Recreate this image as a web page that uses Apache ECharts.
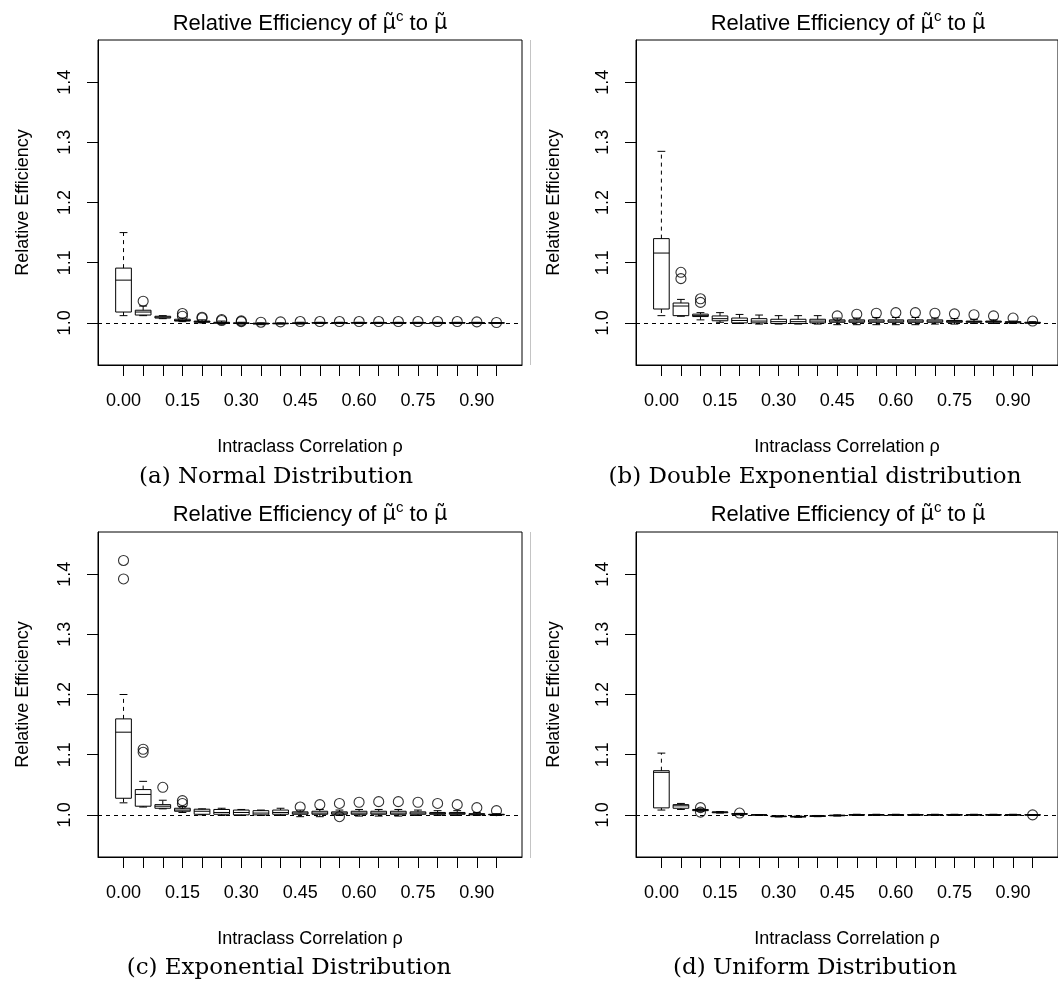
<!DOCTYPE html>
<html>
<head>
<meta charset="utf-8">
<script src="https://cdn.jsdelivr.net/npm/echarts@6/dist/echarts.min.js"></script>
<style>
html,body{margin:0;padding:0;background:#fff;}
#chart{width:1058px;height:983px;background:#fff;}
</style>
</head>
<body>
<div id="chart"></div>
<script>
// ---------------- data ----------------
const rho = ['0.00','0.05','0.10','0.15','0.20','0.25','0.30','0.35','0.40','0.45',
             '0.50','0.55','0.60','0.65','0.70','0.75','0.80','0.85','0.90','0.95'];
const xTickLabels = ['0.00','0.15','0.30','0.45','0.60','0.75','0.90'];
const yTickValues = [1.0, 1.1, 1.2, 1.3, 1.4];

const mainTitle = 'Relative Efficiency of ';
const xName = 'Intraclass Correlation \u03c1';
const yName = 'Relative Efficiency';
const captions = ['(a) Normal Distribution', '(b) Double Exponential distribution',
                  '(c) Exponential Distribution', '(d) Uniform Distribution'];

// box stats: [lower whisker, Q1, median, Q3, upper whisker]
const boxesNormal = [
  [1.012,1.018,1.071,1.091,1.150],[1.012,1.013,1.018,1.021,1.028],[1.007,1.008,1.0095,1.011,1.012],
  [1.002,1.003,1.004,1.006,1.008],[1.000,1.001,1.002,1.003,1.005],[0.999,0.9995,1.000,1.001,1.003],
  [0.998,0.999,0.9995,1.000,1.001],[0.997,0.998,0.999,0.9995,1.000],[0.998,0.9985,0.999,0.9995,1.000],
  [0.998,0.999,0.9995,1.000,1.001],[0.999,0.9995,1.000,1.0005,1.001],[0.999,0.9995,1.000,1.0005,1.001],
  [0.999,0.9995,1.000,1.0005,1.001],[0.999,0.9995,1.000,1.0005,1.001],[0.999,0.9995,1.000,1.0005,1.001],
  [0.999,0.9995,1.000,1.0005,1.001],[0.999,0.9995,1.000,1.0005,1.001],[0.999,0.9995,1.000,1.0005,1.001],
  [0.999,0.9995,1.000,1.0005,1.001],[0.999,0.9995,1.000,1.0003,1.0006]
];
const outNormal = [[1,1.036],[3,1.0155],[3,1.011],[4,1.0094],[4,1.008],[5,1.0055],[5,1.004],[6,1.0033],[6,1.002],
  [7,1.0011],[8,1.0017],[9,1.0022],[10,1.0022],[11,1.0022],[12,1.0022],[13,1.0022],[14,1.0022],[15,1.0022],
  [16,1.0022],[17,1.0022],[18,1.0017],[19,1.0006]];

const boxesDoubleExp = [
  [1.012,1.023,1.116,1.140,1.285],[1.011,1.012,1.028,1.033,1.039],[1.005,1.0105,1.012,1.0145,1.017],
  [1.001,1.0035,1.007,1.0115,1.017],[0.999,1.000,1.004,1.008,1.014],[0.998,1.000,1.003,1.007,1.013],
  [0.998,0.999,1.002,1.006,1.012],[0.998,0.999,1.002,1.006,1.012],[0.998,1.000,1.003,1.006,1.012],
  [0.997,1.001,1.003,1.005,1.008],[0.997,1.001,1.003,1.005,1.008],[0.997,1.001,1.003,1.005,1.009],
  [0.997,1.001,1.003,1.005,1.009],[0.997,1.001,1.003,1.005,1.009],[0.998,1.001,1.003,1.005,1.008],
  [0.998,1.001,1.002,1.004,1.007],[0.999,1.001,1.002,1.003,1.006],[0.999,1.001,1.002,1.003,1.005],
  [0.999,1.000,1.001,1.002,1.003],[0.999,0.9995,1.000,1.001,1.002]
];
const outDoubleExp = [[1,1.084],[1,1.0735],[2,1.040],[2,1.034],[9,1.0116],[10,1.0144],[11,1.016],[12,1.017],
  [13,1.017],[14,1.016],[15,1.015],[16,1.0135],[17,1.0116],[18,1.008],[19,1.003]];

const boxesExp = [
  [1.020,1.0276,1.1374,1.1595,1.200],[1.013,1.0144,1.034,1.042,1.0557],[1.010,1.011,1.0144,1.017,1.0243],
  [1.004,1.006,1.008,1.011,1.014],[1.000,1.001,1.006,1.0094,1.010],[0.999,1.001,1.004,1.009,1.011],
  [0.999,1.000,1.004,1.008,1.009],[0.999,1.000,1.003,1.007,1.008],[0.999,1.001,1.004,1.008,1.011],
  [0.997,1.001,1.003,1.005,1.008],[0.997,1.001,1.003,1.006,1.009],[0.999,1.001,1.003,1.005,1.008],
  [0.998,1.001,1.003,1.006,1.009],[0.998,1.001,1.003,1.006,1.009],[0.998,1.001,1.003,1.006,1.009],
  [0.999,1.001,1.003,1.005,1.008],[0.999,1.001,1.002,1.004,1.007],[0.999,1.001,1.002,1.004,1.007],
  [0.999,1.000,1.001,1.002,1.004],[0.999,1.000,1.0005,1.001,1.002]
];
const outExp = [[0,1.4227],[0,1.392],[1,1.109],[1,1.104],[2,1.0458],[3,1.0237],[3,1.019],[9,1.013],[10,1.017],
  [11,1.019],[11,0.997],[12,1.021],[13,1.022],[14,1.022],[15,1.021],[16,1.019],[17,1.017],[18,1.012],[19,1.007]];

const boxesUniform = [
  [1.008,1.0116,1.0707,1.0734,1.1026],[1.009,1.011,1.015,1.017,1.019],[1.006,1.007,1.008,1.009,1.010],
  [1.003,1.0035,1.0045,1.005,1.0055],[1.000,1.001,1.0015,1.002,1.0025],[0.999,0.9995,1.000,1.0003,1.0005],
  [0.9965,0.997,0.9975,0.998,0.9985],[0.996,0.9965,0.997,0.9975,0.998],[0.997,0.9975,0.998,0.9985,0.999],
  [0.998,0.9985,0.999,0.9995,1.000],[0.999,0.9995,1.000,1.0005,1.001],[0.999,0.9995,1.000,1.0005,1.001],
  [0.999,0.9995,1.000,1.0005,1.001],[0.999,0.9995,1.000,1.0005,1.001],[0.999,0.9995,1.000,1.0005,1.001],
  [0.999,0.9995,1.000,1.0005,1.001],[0.999,0.9995,1.000,1.0005,1.001],[0.999,0.9995,1.000,1.0005,1.001],
  [0.999,0.9995,1.000,1.0005,1.001],[0.999,0.9995,1.000,1.0003,1.0006]
];
const outUniform = [[2,1.012],[2,1.0045],[4,1.003],[19,1.000]];

// ---------------- chart ----------------
const FONT = 'Liberation Sans';
const panels = [
  {boxes: boxesNormal,    outs: outNormal,    left: 98,  top: 40,  titleX: 310, titleY: 9,   yNameGap: 66, cap: captions[0], capX: 276, capY: 477},
  {boxes: boxesDoubleExp, outs: outDoubleExp, left: 636, top: 40,  titleX: 848, titleY: 9,   yNameGap: 73, cap: captions[1], capX: 815, capY: 477},
  {boxes: boxesExp,       outs: outExp,       left: 98,  top: 532, titleX: 310, titleY: 500, yNameGap: 66, cap: captions[2], capX: 289, capY: 968},
  {boxes: boxesUniform,   outs: outUniform,   left: 636, top: 532, titleX: 848, titleY: 500, yNameGap: 73, cap: captions[3], capX: 815, capY: 968}
];

const xTickIdx = rho.map((r, i) => i);
const xLabelIdx = xTickLabels.map(l => rho.indexOf(l));
const X_MIN = -1.3, X_MAX = 20.3, Y_MIN = 0.93, Y_MAX = 1.47;

function renderBox(params, api) {
  const i = api.value(0);
  const pLo = api.coord([i, api.value(1)]);
  const pQ1 = api.coord([i, api.value(2)]);
  const pMd = api.coord([i, api.value(3)]);
  const pQ3 = api.coord([i, api.value(4)]);
  const pHi = api.coord([i, api.value(5)]);
  const bw = api.size([0.8, 0])[0];
  const cw = api.size([0.4, 0])[0];
  const x = pLo[0];
  const solid = {stroke: '#000', lineWidth: 1, fill: null};
  const dashed = {stroke: '#000', lineWidth: 1, lineDash: [4, 4], fill: null};
  return {
    type: 'group',
    children: [
      {type: 'line', shape: {x1: x, y1: pQ3[1], x2: x, y2: pHi[1]}, style: dashed},
      {type: 'line', shape: {x1: x, y1: pQ1[1], x2: x, y2: pLo[1]}, style: dashed},
      {type: 'line', shape: {x1: x - cw / 2, y1: pHi[1], x2: x + cw / 2, y2: pHi[1]}, style: solid},
      {type: 'line', shape: {x1: x - cw / 2, y1: pLo[1], x2: x + cw / 2, y2: pLo[1]}, style: solid},
      {type: 'rect', shape: {x: x - bw / 2, y: pQ3[1], width: bw, height: pQ1[1] - pQ3[1]}, style: solid},
      {type: 'line', shape: {x1: x - bw / 2, y1: pMd[1], x2: x + bw / 2, y2: pMd[1]}, style: solid}
    ]
  };
}

// fallback y tick marks drawn through the y scale (only used if axis ticks are not visible)
function renderYTick(params, api) {
  const p = api.coord([X_MIN, api.value(0)]);
  return {type: 'line', shape: {x1: p[0] - 11, y1: p[1], x2: p[0], y2: p[1]}, style: {stroke: '#000', lineWidth: 1}};
}

function build(v) {
  const option = {animation: false, title: [], grid: [], xAxis: [], yAxis: [], series: []};
  if (v.graphic) option.graphic = [];
  panels.forEach((p, k) => {
    option.title.push({
      text: '{m|' + mainTitle + '}{g|\u03bc\u0303}{s|c}{m| to }{g|\u03bc\u0303}',
      left: p.titleX, top: p.titleY, textAlign: 'center', padding: 0,
      textStyle: {
        fontWeight: 'normal', color: '#000',
        rich: {
          m: {fontSize: 22, fontFamily: FONT, fontWeight: 'normal', color: '#000'},
          g: {fontSize: 21, fontFamily: 'DejaVu Sans', fontWeight: 'normal', color: '#000'},
          s: {fontSize: 15, fontFamily: FONT, fontWeight: 'normal', color: '#000', padding: [0, 0, 14, 0]}
        }
      }
    });
    option.grid.push({
      left: p.left, top: p.top, width: 424, height: 325,
      show: true, borderColor: '#000', borderWidth: 1, backgroundColor: 'transparent'
    });
    option.xAxis.push({
      type: 'value', gridIndex: k, min: X_MIN, max: X_MAX,
      splitLine: {show: false},
      axisLine: {show: true, onZero: false, lineStyle: {color: '#000', width: 1}},
      axisTick: {show: true, length: 11, customValues: xTickIdx, lineStyle: {color: '#000', width: 1}},
      axisLabel: {customValues: xLabelIdx, formatter: t => rho[Math.round(t)], fontSize: 18,
                  fontFamily: FONT, color: '#000', margin: 27},
      name: xName, nameLocation: 'middle', nameGap: 73,
      nameTextStyle: {fontSize: 18, fontFamily: FONT, color: '#000'}
    });
    option.yAxis.push({
      type: 'value', gridIndex: k, min: Y_MIN, max: Y_MAX,
      splitLine: {show: false},
      axisLine: {show: true, onZero: false, lineStyle: {color: '#000', width: 1}},
      axisTick: {show: !v.tickSeries, length: 11, customValues: yTickValues, lineStyle: {color: '#000', width: 1}},
      axisLabel: {customValues: yTickValues, formatter: t => t.toFixed(1), rotate: 90, fontSize: 18,
                  fontFamily: FONT, color: '#000', margin: 24},
      name: yName, nameLocation: 'middle', nameRotate: 90, nameGap: p.yNameGap,
      nameTextStyle: {fontSize: 18, fontFamily: FONT, color: '#000'}
    });
    option.series.push({
      type: 'custom', xAxisIndex: k, yAxisIndex: k, silent: true, clip: false,
      renderItem: renderBox,
      encode: {x: 0, y: [1, 2, 3, 4, 5]},
      data: p.boxes.map((b, i) => [i].concat(b)),
      markLine: {
        silent: true, symbol: ['none', 'none'], label: {show: false},
        lineStyle: {color: '#000', type: [4, 4], width: 1},
        data: [{yAxis: 1}]
      },
      z: 3
    });
    option.series.push({
      type: 'scatter', xAxisIndex: k, yAxisIndex: k, silent: true,
      symbol: 'circle', symbolSize: 10,
      itemStyle: {color: 'rgba(0,0,0,0)', borderColor: '#000', borderWidth: 1.1},
      data: p.outs,
      z: 4
    });
    if (v.tickSeries) {
      option.series.push({
        type: 'custom', xAxisIndex: k, yAxisIndex: k, silent: true, clip: false,
        renderItem: renderYTick, encode: {y: 0}, data: yTickValues.map(t => [t]), z: 5
      });
    }
    if (v.graphic) {
      option.graphic.push({
        type: 'text', x: p.capX, y: p.capY, silent: true,
        style: {text: p.cap, font: '23px "DejaVu Serif"', fill: '#000', textAlign: 'center', textVerticalAlign: 'middle'}
      });
    } else {
      option.title.push({
        text: p.cap, left: p.capX, top: p.capY - 13, textAlign: 'center', padding: 0,
        textStyle: {fontSize: 23, fontFamily: 'DejaVu Serif', fontWeight: 'normal', color: '#000'}
      });
    }
  });
  if (v.graphic) {
    option.graphic.push({type: 'line', silent: true, shape: {x1: 530.5, y1: 40, x2: 530.5, y2: 365}, style: {stroke: '#c4c4c4', lineWidth: 1}});
    option.graphic.push({type: 'line', silent: true, shape: {x1: 530.5, y1: 532, x2: 530.5, y2: 858}, style: {stroke: '#c4c4c4', lineWidth: 1}});
  }
  return option;
}

const chart = echarts.init(document.getElementById('chart'), null, {renderer: 'canvas'});

function yTicksVisible() {
  const canvas = chart.getDom().getElementsByTagName('canvas')[0];
  if (!canvas) return true;
  try {
    const ctx = canvas.getContext('2d');
    const ratio = canvas.width / chart.getWidth();
    const d = ctx.getImageData(Math.round(92 * ratio), Math.round(79 * ratio), 1, Math.round(7 * ratio)).data;
    for (let i = 0; i < d.length; i += 4) {
      if (d[i + 3] > 100 && d[i] < 140) return true;
    }
    return false;
  } catch (e) {
    return true;
  }
}

const variants = [
  {graphic: true, tickSeries: false},
  {graphic: false, tickSeries: false},
  {graphic: false, tickSeries: true}
];
for (let i = 0; i < variants.length; i++) {
  chart.setOption(build(variants[i]), true);
  chart.getZr().refreshImmediately();
  if (yTicksVisible()) break;
}
</script>
</body>
</html>
